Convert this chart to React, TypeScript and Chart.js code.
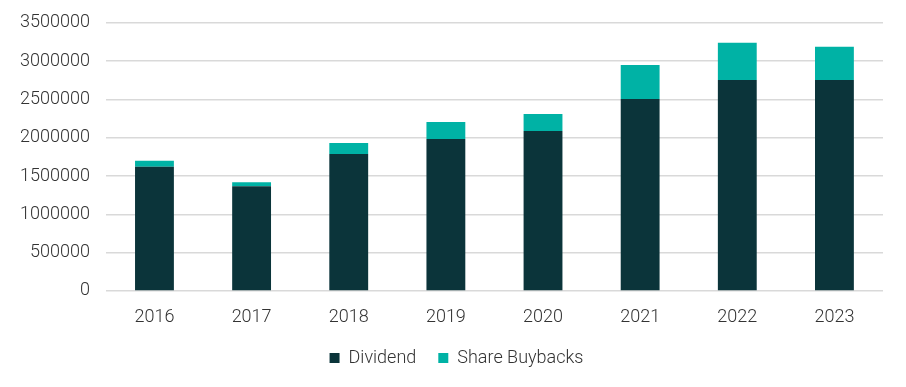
import React, { useEffect, useRef } from "react";
import { Chart, registerables } from "chart.js";

Chart.register(...registerables);

const years = ["2016", "2017", "2018", "2019", "2020", "2021", "2022", "2023"];
const dividend = [1620000, 1367000, 1786000, 1982000, 2087000, 2506000, 2754000, 2754000];
const shareBuybacks = [78000, 52000, 144000, 222000, 222000, 444000, 484000, 432000];

const FONT = "Roboto, 'Liberation Sans', sans-serif";

const legendTweak = {
  id: "legendTweak",
  beforeInit(chart: any) {
    const lg = chart.legend;
    if (!lg) return;
    const origFit = lg.fit.bind(lg);
    lg.fit = function () {
      origFit();
      this.height -= 8;
    };
    const origDraw = lg.draw.bind(lg);
    lg.draw = function () {
      const ctx = chart.ctx;
      ctx.save();
      ctx.translate(13, 0);
      origDraw();
      ctx.restore();
    };
  },
};

export default function App() {
  const ref = useRef<HTMLCanvasElement | null>(null);
  useEffect(() => {
    if (!ref.current) return;
    const chart = new Chart(ref.current, {
      type: "bar",
      data: {
        labels: years,
        datasets: [
          { label: "Dividend", data: dividend, backgroundColor: "#0b343a", barPercentage: 0.4, categoryPercentage: 1 },
          { label: "Share Buybacks", data: shareBuybacks, backgroundColor: "#00b2a5", barPercentage: 0.4, categoryPercentage: 1 },
        ],
      },
      options: {
        animation: false,
        responsive: true,
        maintainAspectRatio: false,
        layout: { padding: { top: 0, right: 15, left: -4, bottom: 10 } },
        plugins: {
          tooltip: { enabled: false },
          legend: {
            position: "bottom",
            labels: {
              boxWidth: 10,
              boxHeight: 10,
              padding: 22,
              color: "#333333",
              font: { family: FONT, size: 18, weight: 300 },
            },
          },
        },
        scales: {
          x: {
            stacked: true,
            grid: { display: false },
            border: { display: false },
            ticks: { color: "#333333", padding: 8, font: { family: FONT, size: 18, weight: 300 } },
            afterFit: (s: any) => {
              s.height -= 9.5;
            },
          },
          y: {
            stacked: true,
            min: 0,
            max: 3500000,
            ticks: {
              stepSize: 500000,
              color: "#333333",
              padding: 16,
              font: { family: FONT, size: 18, weight: 300 },
              callback: (v: any) => String(v),
            },
            grid: { color: "#d9d9d9", lineWidth: 1.5, drawTicks: false },
            border: { display: false },
            afterFit: (s: any) => {
              s.paddingTop = Math.max(0, s.paddingTop - 12);
            },
          },
        },
      },
      plugins: [legendTweak],
    });
    return () => chart.destroy();
  }, []);
  return (
    <div style={{ width: 890, height: 371 }}>
      <canvas ref={ref} />
    </div>
  );
}
